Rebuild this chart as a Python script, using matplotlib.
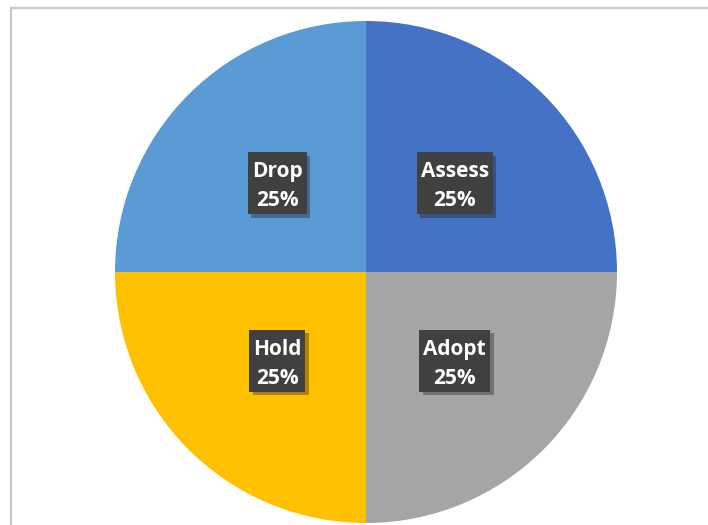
import numpy as np
import matplotlib.pyplot as plt
import matplotlib.patheffects as pe
from matplotlib.transforms import offset_copy
from matplotlib.patches import Rectangle

# Slice data (clockwise from 12 o'clock)
labels = ['Assess', 'Adopt', 'Hold', 'Drop']
values = [25, 25, 25, 25]
colors = ['#4472C4', '#A5A5A5', '#FFC000', '#5B9BD5']

fig = plt.figure(figsize=(7.08, 5.25), dpi=100)

# chart area border (left and top lines visible)
fig.add_artist(plt.Line2D([10.5 / 708, 10.5 / 708], [0, 1 - 7.5 / 525],
                          color='#c8c8c8', lw=1.6, transform=fig.transFigure))
fig.add_artist(plt.Line2D([10.5 / 708, 1], [1 - 7.5 / 525, 1 - 7.5 / 525],
                          color='#c8c8c8', lw=1.6, transform=fig.transFigure))

ax = fig.add_axes([115 / 708, 2 / 525, 502 / 708, 502 / 525])
wedges, _ = ax.pie(values, colors=colors, startangle=90, counterclock=False,
                   radius=1.0, wedgeprops=dict(linewidth=0))
ax.set_xlim(-1, 1)
ax.set_ylim(-1, 1)
ax.set_aspect('equal')
ax.axis('off')

fig.canvas.draw()
renderer = fig.canvas.get_renderer()
# pixels per data unit
scale = ax.transData.transform((1, 0))[0] - ax.transData.transform((0, 0))[0]

total = sum(values)
start = 90.0
for lab, v in zip(labels, values):
    span = 360.0 * v / total
    mid = np.deg2rad(start - span / 2)
    start -= span
    x, y = 0.5 * np.cos(mid), 0.5 * np.sin(mid)
    style = dict(ha='center', va='baseline', color='white', fontsize=15,
                 fontweight='bold', family='Open Sans', zorder=5)
    t1 = ax.text(x, y, lab, transform=offset_copy(ax.transData, fig, 0, 6, units='dots'), **style)
    t2 = ax.text(x, y, f'{v}%', transform=offset_copy(ax.transData, fig, 0, -23, units='dots'), **style)
    w = max(t1.get_window_extent(renderer).width, t2.get_window_extent(renderer).width) + 8
    h = 62
    box = Rectangle((x - w / 2 / scale, y - h / 2 / scale), w / scale, h / scale,
                    facecolor='#404040', edgecolor='none', zorder=4)
    box.set_path_effects([pe.SimplePatchShadow(offset=(2.5, -2.5), alpha=0.35), pe.Normal()])
    ax.add_patch(box)

fig.savefig('out.png', dpi=100)
